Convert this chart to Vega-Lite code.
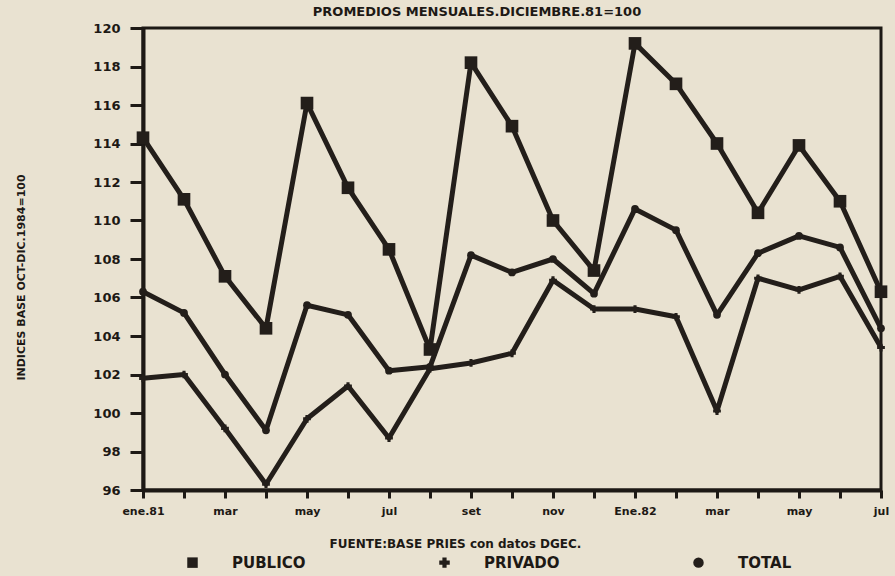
{
  "$schema": "https://vega.github.io/schema/vega-lite/v6.json",
  "autosize": "none",
  "width": 738,
  "height": 462,
  "padding": {"left": 143, "top": 28, "right": 14, "bottom": 86},
  "background": "#e9e2d1",
  "title": {
    "text": "PROMEDIOS MENSUALES.DICIEMBRE.81=100",
    "font": "DejaVu Sans",
    "fontSize": 13,
    "fontWeight": "bold",
    "color": "#1d1915",
    "anchor": "middle",
    "dx": -35,
    "offset": 3
  },
  "config": {
    "view": {"stroke": "#1d1915", "strokeWidth": 3},
    "axis": {
      "labelFont": "DejaVu Sans",
      "labelFontWeight": "bold",
      "labelColor": "#1d1915",
      "titleFont": "DejaVu Sans",
      "titleFontWeight": "bold",
      "titleColor": "#1d1915",
      "domainColor": "#1d1915",
      "tickColor": "#1d1915",
      "grid": false
    },
    "legend": {
      "labelFont": "DejaVu Sans",
      "labelFontWeight": "bold",
      "labelColor": "#1d1915"
    }
  },
  "data": {
    "values": [
      {"mes": "ene.81", "serie": "PUBLICO", "valor": 114.3},
      {"mes": "feb.81", "serie": "PUBLICO", "valor": 111.1},
      {"mes": "mar.81", "serie": "PUBLICO", "valor": 107.1},
      {"mes": "abr.81", "serie": "PUBLICO", "valor": 104.4},
      {"mes": "may.81", "serie": "PUBLICO", "valor": 116.1},
      {"mes": "jun.81", "serie": "PUBLICO", "valor": 111.7},
      {"mes": "jul.81", "serie": "PUBLICO", "valor": 108.5},
      {"mes": "ago.81", "serie": "PUBLICO", "valor": 103.3},
      {"mes": "set.81", "serie": "PUBLICO", "valor": 118.2},
      {"mes": "oct.81", "serie": "PUBLICO", "valor": 114.9},
      {"mes": "nov.81", "serie": "PUBLICO", "valor": 110.0},
      {"mes": "dic.81", "serie": "PUBLICO", "valor": 107.4},
      {"mes": "ene.82", "serie": "PUBLICO", "valor": 119.2},
      {"mes": "feb.82", "serie": "PUBLICO", "valor": 117.1},
      {"mes": "mar.82", "serie": "PUBLICO", "valor": 114.0},
      {"mes": "abr.82", "serie": "PUBLICO", "valor": 110.4},
      {"mes": "may.82", "serie": "PUBLICO", "valor": 113.9},
      {"mes": "jun.82", "serie": "PUBLICO", "valor": 111.0},
      {"mes": "jul.82", "serie": "PUBLICO", "valor": 106.3},
      {"mes": "ene.81", "serie": "PRIVADO", "valor": 101.8},
      {"mes": "feb.81", "serie": "PRIVADO", "valor": 102.0},
      {"mes": "mar.81", "serie": "PRIVADO", "valor": 99.2},
      {"mes": "abr.81", "serie": "PRIVADO", "valor": 96.3},
      {"mes": "may.81", "serie": "PRIVADO", "valor": 99.7},
      {"mes": "jun.81", "serie": "PRIVADO", "valor": 101.4},
      {"mes": "jul.81", "serie": "PRIVADO", "valor": 98.7},
      {"mes": "ago.81", "serie": "PRIVADO", "valor": 102.3},
      {"mes": "set.81", "serie": "PRIVADO", "valor": 102.6},
      {"mes": "oct.81", "serie": "PRIVADO", "valor": 103.1},
      {"mes": "nov.81", "serie": "PRIVADO", "valor": 106.9},
      {"mes": "dic.81", "serie": "PRIVADO", "valor": 105.4},
      {"mes": "ene.82", "serie": "PRIVADO", "valor": 105.4},
      {"mes": "feb.82", "serie": "PRIVADO", "valor": 105.0},
      {"mes": "mar.82", "serie": "PRIVADO", "valor": 100.1},
      {"mes": "abr.82", "serie": "PRIVADO", "valor": 107.0},
      {"mes": "may.82", "serie": "PRIVADO", "valor": 106.4},
      {"mes": "jun.82", "serie": "PRIVADO", "valor": 107.1},
      {"mes": "jul.82", "serie": "PRIVADO", "valor": 103.4},
      {"mes": "ene.81", "serie": "TOTAL", "valor": 106.3},
      {"mes": "feb.81", "serie": "TOTAL", "valor": 105.2},
      {"mes": "mar.81", "serie": "TOTAL", "valor": 102.0},
      {"mes": "abr.81", "serie": "TOTAL", "valor": 99.1},
      {"mes": "may.81", "serie": "TOTAL", "valor": 105.6},
      {"mes": "jun.81", "serie": "TOTAL", "valor": 105.1},
      {"mes": "jul.81", "serie": "TOTAL", "valor": 102.2},
      {"mes": "ago.81", "serie": "TOTAL", "valor": 102.4},
      {"mes": "set.81", "serie": "TOTAL", "valor": 108.2},
      {"mes": "oct.81", "serie": "TOTAL", "valor": 107.3},
      {"mes": "nov.81", "serie": "TOTAL", "valor": 108.0},
      {"mes": "dic.81", "serie": "TOTAL", "valor": 106.2},
      {"mes": "ene.82", "serie": "TOTAL", "valor": 110.6},
      {"mes": "feb.82", "serie": "TOTAL", "valor": 109.5},
      {"mes": "mar.82", "serie": "TOTAL", "valor": 105.1},
      {"mes": "abr.82", "serie": "TOTAL", "valor": 108.3},
      {"mes": "may.82", "serie": "TOTAL", "valor": 109.2},
      {"mes": "jun.82", "serie": "TOTAL", "valor": 108.6},
      {"mes": "jul.82", "serie": "TOTAL", "valor": 104.4}
    ]
  },
  "encoding": {
    "x": {
      "field": "mes",
      "type": "ordinal",
      "sort": ["ene.81","feb.81","mar.81","abr.81","may.81","jun.81","jul.81","ago.81","set.81","oct.81","nov.81","dic.81","ene.82","feb.82","mar.82","abr.82","may.82","jun.82","jul.82"],
      "scale": {"type": "point", "padding": 0},
      "axis": {
        "title": "FUENTE:BASE PRIES con datos DGEC.",
        "titleFontSize": 12,
        "titleX": 312,
        "titleY": 48,
        "titleAnchor": "middle",
        "titleBaseline": "top",
        "labelAngle": 0,
        "labelFontSize": 11,
        "labelPadding": 7,
        "labelOverlap": false,
        "labelFlush": false,
        "labelExpr": "datum.value == 'ene.81' ? 'ene.81' : datum.value == 'ene.82' ? 'Ene.82' : indexof(['mar.81','may.81','jul.81','set.81','nov.81','mar.82','may.82','jul.82'], datum.value) >= 0 ? split(datum.value, '.')[0] : ''",
        "domainWidth": 4,
        "tickWidth": 3,
        "tickSize": 8
      }
    },
    "y": {
      "field": "valor",
      "type": "quantitative",
      "scale": {"domain": [96, 120], "nice": false, "zero": false},
      "axis": {
        "title": "INDICES BASE OCT-DIC.1984=100",
        "titleFontSize": 11,
        "titlePadding": 66,
        "titleY": 249,
        "titleAnchor": "middle",
        "values": [96, 98, 100, 102, 104, 106, 108, 110, 112, 114, 116, 118, 120],
        "labelFontSize": 13,
        "labelPadding": 10,
        "domainWidth": 4,
        "tickWidth": 3,
        "tickSize": 13
      }
    },
    "shape": {
      "field": "serie",
      "type": "nominal",
      "scale": {"domain": ["PUBLICO", "PRIVADO", "TOTAL"], "range": ["square", "cross", "circle"]},
      "legend": {
        "title": null,
        "orient": "none",
        "direction": "horizontal",
        "legendX": 42,
        "legendY": 527,
        "symbolSize": 110,
        "symbolFillColor": "#231e1a",
        "symbolStrokeColor": "#231e1a",
        "labelFontSize": 15,
        "labelOffset": 32,
        "columnPadding": 130
      }
    }
  },
  "layer": [
    {
      "mark": {"type": "line", "color": "#231e1a", "strokeWidth": 5, "strokeJoin": "round"},
      "encoding": {"detail": {"field": "serie"}, "shape": null}
    },
    {
      "transform": [{"filter": "datum.serie == 'PUBLICO'"}],
      "mark": {"type": "point", "filled": true, "color": "#231e1a", "opacity": 1, "size": 160}
    },
    {
      "transform": [{"filter": "datum.serie != 'PUBLICO'"}],
      "mark": {"type": "point", "filled": true, "color": "#231e1a", "opacity": 1, "size": 60}
    }
  ]
}
